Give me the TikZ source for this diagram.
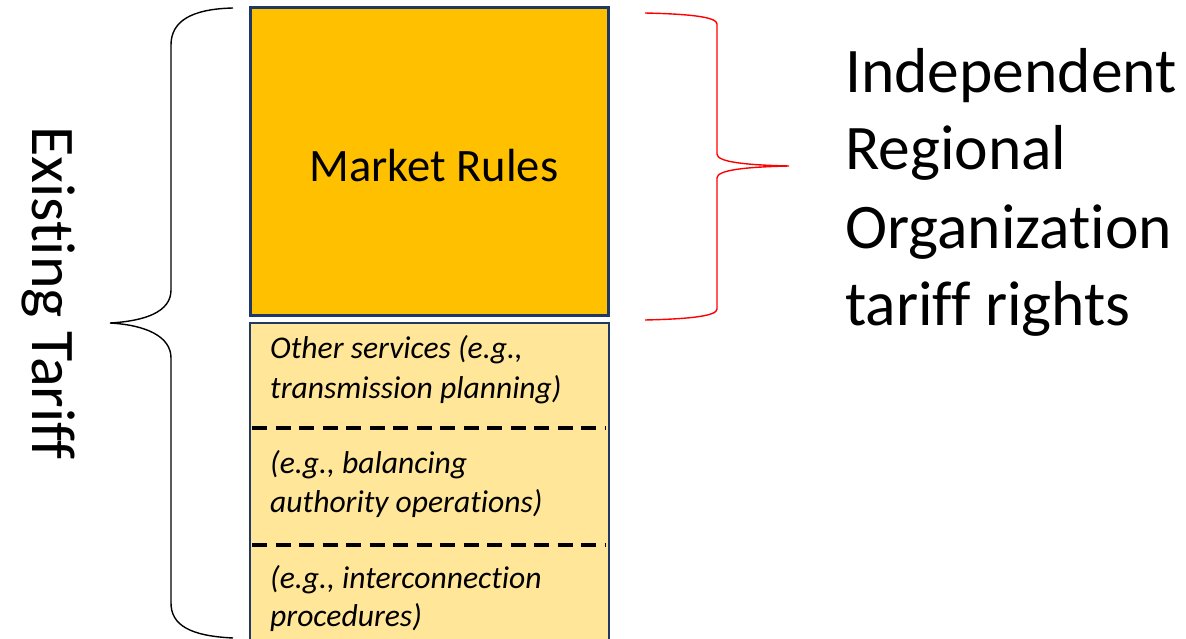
\documentclass[tikz,border=0pt]{standalone}
\usepackage{fontspec}
\setmainfont[Ligatures={NoCommon}]{Carlito}
\definecolor{navy}{HTML}{203864}
\definecolor{mrorange}{HTML}{FFC000}
\definecolor{lightor}{HTML}{FFE699}
\definecolor{bracered}{HTML}{FF0000}
\begin{document}
\begin{tikzpicture}[x=1pt,y=-1pt,
  boxstyle/.style={draw=navy,line width=2.2pt,inner sep=0pt,minimum width=358pt},
  smalltxt/.style={anchor=base west,inner sep=0pt,font=\fontsize{31.6}{38}\selectfont\itshape},
  bigtxt/.style={anchor=base west,inner sep=0pt,font=\fontsize{63.5}{77}\selectfont},
  divider/.style={line width=3.6pt,dash pattern=on 15pt off 8.5pt},
  bracestyle/.style={line width=1.4pt}]
\useasboundingbox (0,0) rectangle (1186,639);
\begin{scope}
\clip (0,0) rectangle (1186,639);
% boxes
\node[boxstyle,fill=mrorange,minimum height=308pt] (mr) at (429.5,161.5) {};
\node[font=\fontsize{46.5}{56}\selectfont,inner sep=0pt,anchor=base] (mrt) at (434,182) {Market Rules};
\node[boxstyle,fill=lightor,minimum height=330pt,minimum width=359pt] (lb) at (429.5,488) {};
% dashed dividers
\coordinate (d1a) at (252,428); \coordinate (d1b) at (606,428);
\coordinate (d2a) at (252,545); \coordinate (d2b) at (606,545);
\draw[divider] (d1a) -- (d1b);
\draw[divider] (d2a) -- (d2b);
% lower texts
\node[smalltxt] (t1) at (270,358) {Other services (e.g.,};
\node[smalltxt] (t2) at (270,398) {transmission planning)};
\node[smalltxt] (t3) at (270,473) {(e.g., balancing};
\node[smalltxt] (t4) at (270,512) {authority operations)};
\node[smalltxt] (t5) at (270,588) {(e.g., interconnection};
\node[smalltxt] (t6) at (270,626) {procedures)};
% left brace
\draw[bracestyle,black] (233,8) .. controls (190,9) and (171,22) .. (171,45)
  -- (171,290) .. controls (171,312) and (145,321) .. (110,323)
  .. controls (145,325) and (171,336) .. (171,358)
  -- (171,603) .. controls (171,625) and (190,636) .. (233,638);
% right brace
\draw[bracestyle,bracered] (645,13) .. controls (690,14) and (717,17) .. (717,24)
  -- (717,154) .. controls (717,162) and (745,165) .. (789,166)
  .. controls (745,167) and (717,170) .. (717,178)
  -- (717,309) .. controls (717,316) and (690,319) .. (645,320);
\end{scope}
% rotated label
\node[anchor=base west,inner sep=0pt,rotate=-90,font=\fontsize{62}{74}\selectfont] (et) at (32,126) {Existing Tariff};
% right labels
\node[bigtxt] (r1) at (845,93) {Independent};
\node[bigtxt] (r2) at (845,170) {Regional};
\node[bigtxt] (r3) at (845,248) {Organization};
\node[bigtxt] (r4) at (845,325) {tariff rights};
\end{tikzpicture}
\end{document}
